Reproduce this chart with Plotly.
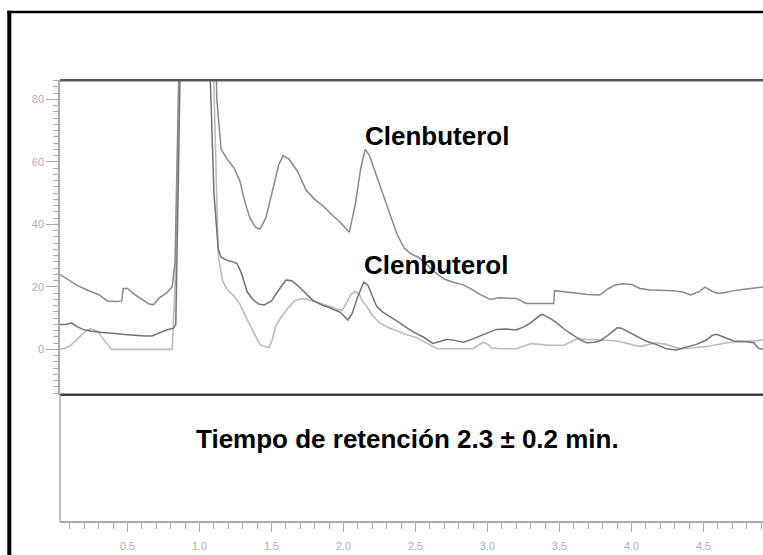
import plotly.graph_objects as go

W, H = 763, 555

# ---- data (time in min, signal) ----
t_a = [0.03, 0.08, 0.15, 0.22, 0.30, 0.36, 0.42, 0.46, 0.47, 0.50, 0.55, 0.60, 0.65, 0.68, 0.72, 0.77,
       0.81, 0.83, 0.845, 0.87, 0.95, 1.05, 1.10, 1.12, 1.15, 1.19, 1.24, 1.28, 1.31, 1.35, 1.39, 1.42,
       1.46, 1.50, 1.55, 1.58, 1.62, 1.68, 1.74, 1.80, 1.86, 1.92, 1.97, 2.04, 2.08, 2.12, 2.15, 2.18,
       2.24, 2.28, 2.32, 2.37, 2.42, 2.47, 2.52, 2.58, 2.64, 2.70, 2.76, 2.82, 2.88, 2.95, 3.02, 3.08,
       3.14, 3.20, 3.27, 3.35, 3.46, 3.465, 3.52, 3.60, 3.70, 3.78, 3.83, 3.88, 3.94, 4.00, 4.06, 4.13,
       4.20, 4.29, 4.36, 4.41, 4.47, 4.51, 4.56, 4.60, 4.66, 4.71, 4.80, 4.92]
v_a = [24, 22.5, 20.5, 19, 17.5, 15.5, 15.3, 15.5, 19.5, 19.5, 17.5, 16, 14.5, 14.3, 16.5, 18,
       20, 28, 60, 120, 140, 135, 125, 80, 64, 61, 58, 54, 48, 42, 39, 38.5,
       42, 50, 59, 62, 61, 57, 51, 48, 45.8, 43, 41, 37.5, 46, 58, 64, 62,
       54.3, 49, 43.7, 37, 32.5, 30.5, 29.5, 27, 24.5, 22.5, 21.5, 20.8, 19.5, 17.5, 16, 16.5,
       16.3, 16.3, 14.7, 14.7, 14.7, 18.8, 18.5, 18.1, 17.6, 17.4, 19.2, 20.5, 21.0, 20.8, 19.5, 19,
       19, 18.8, 18.3, 17.4, 18.5, 19.9, 18.6, 17.9, 18.3, 18.8, 19.3, 20]

t_b = [0.03, 0.07, 0.11, 0.15, 0.19, 0.25, 0.31, 0.38, 0.43, 0.50, 0.55, 0.62, 0.67, 0.72, 0.77, 0.82,
       0.835, 0.855, 0.875, 0.95, 1.03, 1.06, 1.075, 1.10, 1.13, 1.15, 1.19, 1.23, 1.26, 1.29, 1.33, 1.37,
       1.41, 1.45, 1.50, 1.55, 1.60, 1.64, 1.68, 1.74, 1.79, 1.85, 1.905, 1.98, 2.03, 2.06, 2.10, 2.14,
       2.17, 2.20, 2.23, 2.27, 2.32, 2.38, 2.44, 2.50, 2.56, 2.62, 2.67, 2.72, 2.78, 2.83, 2.89, 2.95,
       3.00, 3.06, 3.13, 3.20, 3.25, 3.30, 3.35, 3.38, 3.43, 3.48, 3.54, 3.60, 3.65, 3.69, 3.74, 3.78,
       3.84, 3.90, 3.93, 3.99, 4.05, 4.10, 4.17, 4.24, 4.31, 4.38, 4.45, 4.52, 4.56, 4.59, 4.65, 4.71,
       4.78, 4.85, 4.88, 4.92]
v_b = [8, 8, 8.5, 7.3, 6.4, 5.8, 5.5, 5.3, 5.0, 4.7, 4.5, 4.3, 4.3, 5.2, 6.2, 6.8,
       8, 60, 120, 140, 135, 120, 86, 50, 32, 29.5, 28.5, 28.0, 27.5, 24.5, 18.5, 16,
       14.5, 14.2, 15.5, 19, 22.2, 22, 20.5, 17.8, 15.6, 14.2, 13.3, 11.8, 9.4, 11.5, 17, 21.5,
       20.5, 17, 13.8, 12, 10.6, 8.8, 6.9, 5.2, 3.8, 1.9, 2.5, 3.2, 2.8, 2.3, 3.2, 4.3,
       5.3, 6.4, 6.5, 6.2, 7.2, 8.5, 10.4, 11.2, 10.1, 8.5, 6.2, 4.3, 2.9, 2.1, 2.3, 2.7,
       4.6, 6.9, 6.8, 5.3, 3.8, 2.7, 1.6, 0.2, -0.2, 0.7, 1.6, 3.0, 4.5, 4.8, 3.8, 2.7,
       2.5, 2.1, 0.4, 0]

t_c = [0.03, 0.06, 0.10, 0.14, 0.17, 0.21, 0.24, 0.27, 0.29, 0.32, 0.36, 0.39, 0.50, 0.60, 0.70, 0.81,
       0.83, 0.86, 0.88, 0.95, 1.05, 1.08, 1.10, 1.12, 1.13, 1.16, 1.19, 1.24, 1.28, 1.33, 1.38, 1.42,
       1.48, 1.505, 1.53, 1.57, 1.61, 1.66, 1.70, 1.75, 1.79, 1.85, 1.905, 1.96, 1.99, 2.02, 2.05, 2.08,
       2.11, 2.13, 2.16, 2.20, 2.25, 2.31, 2.37, 2.44, 2.51, 2.58, 2.65, 2.75, 2.90, 2.94, 2.97, 3.00,
       3.03, 3.10, 3.20, 3.25, 3.30, 3.36, 3.43, 3.53, 3.58, 3.62, 3.68, 3.73, 3.80, 3.90, 3.98, 4.06,
       4.12, 4.17, 4.24, 4.29, 4.34, 4.43, 4.52, 4.59, 4.66, 4.75, 4.83, 4.92]
v_c = [0, 0.3, 1.1, 2.8, 4.3, 5.8, 6.6, 6.3, 5.9, 4, 1.8, 0, 0, 0, 0, 0,
       20, 86, 130, 140, 135, 120, 86, 50, 30, 22, 19.2, 17, 14.5, 9.6, 5, 1.5,
       0.5, 3, 7.5, 10.5, 13, 15.5, 16.2, 16, 15.4, 14.6, 13.8, 12.8, 12.4, 14.9, 17.5, 18.6,
       17.6, 15.5, 13.8, 11, 8.5, 7, 5.9, 4.7, 3.7, 2, 0.2, 0.2, 0.2, 1.5, 2.3, 1.7,
       0.4, 0.2, 0.2, 1, 1.9, 1.6, 1.3, 1.3, 2.5, 3.4, 3.2, 3.2, 3.0, 2.7, 1.8, 0.9,
       1.6, 2.1, 1.6, 0.9, 0.2, 0.5, 0.9, 1.5, 2.1, 2.4, 2.6, 3]

peak_label = "Clenbuterol"
note_text = "Tiempo de retención 2.3 ± 0.2 min."

x_range = [0.031, 4.913]
y_range = [-14.5, 86.1]

# ---- geometry (pixels) ----
PL = 60           # plot left
PT = 80.3         # plot top
PB = 394.7        # plot bottom
XA = 522          # x axis line


def px(xp):
    return xp / W


def py(yp):
    return 1 - yp / H


fig = go.Figure()
fig.add_trace(go.Scatter(x=t_c, y=v_c, mode="lines",
                         line=dict(color="#bcbcbc", width=1.6), showlegend=False, hoverinfo="skip"))
fig.add_trace(go.Scatter(x=t_b, y=v_b, mode="lines",
                         line=dict(color="#737373", width=1.5), showlegend=False, hoverinfo="skip"))
fig.add_trace(go.Scatter(x=t_a, y=v_a, mode="lines",
                         line=dict(color="#8a8a8a", width=1.5), showlegend=False, hoverinfo="skip"))

axis_grey = "#ababab"
tick_font = dict(family="Liberation Sans, Arial, sans-serif", size=11, color="#b0b0b0")

fig.update_layout(
    width=W, height=H,
    margin=dict(l=0, r=0, t=0, b=0),
    paper_bgcolor="white", plot_bgcolor="white",
    xaxis=dict(
        domain=[px(PL), 1], range=x_range, anchor="free", position=py(XA),
        showline=True, linecolor=axis_grey, linewidth=1.5,
        showgrid=False, zeroline=False,
        ticks="outside", tick0=0, dtick=0.5, ticklen=9, tickwidth=1.2, tickcolor=axis_grey,
        tickformat=".1f", tickfont=tick_font, ticklabelstandoff=5,
        minor=dict(dtick=0.1, tick0=0, ticks="outside", ticklen=6, tickwidth=1.2,
                   tickcolor=axis_grey, showgrid=False),
    ),
    yaxis=dict(
        domain=[py(PB), py(PT)], range=y_range, anchor="x",
        showline=True, linecolor=axis_grey, linewidth=1.5,
        showgrid=False, zeroline=False,
        ticks="outside", tick0=0, dtick=20, ticklen=12, tickwidth=1.2, tickcolor=axis_grey,
        tickfont=tick_font,
        minor=dict(dtick=2, tick0=0, ticks="outside", ticklen=5, tickwidth=1.2,
                   tickcolor=axis_grey, showgrid=False),
    ),
    yaxis2=dict(
        overlaying="y", anchor="x", side="left", range=y_range,
        showline=False, showgrid=False, zeroline=False, showticklabels=False,
        ticks="outside", tick0=0, dtick=10, ticklen=8, tickwidth=1.2, tickcolor=axis_grey,
    ),
)

shapes = [
    # plot frame: top & bottom dark lines
    dict(type="line", xref="paper", yref="paper", x0=px(PL), x1=1, y0=py(PT), y1=py(PT),
         line=dict(color="#5a5a5a", width=2.5)),
    dict(type="line", xref="paper", yref="paper", x0=px(PL), x1=1, y0=py(PB), y1=py(PB),
         line=dict(color="#404040", width=2.5)),
    # grey line joining the plot to the time axis
    dict(type="line", xref="paper", yref="paper", x0=px(PL), x1=px(PL), y0=py(XA), y1=py(PB),
         line=dict(color=axis_grey, width=1.5)),
    # outer black frame (left and top)
    dict(type="line", xref="paper", yref="paper", x0=px(9.3), x1=px(9.3), y0=0, y1=py(10.8),
         line=dict(color="black", width=4)),
    dict(type="line", xref="paper", yref="paper", x0=px(7.3), x1=1, y0=py(12), y1=py(12),
         line=dict(color="black", width=2.5)),
]
fig.update_layout(shapes=shapes)

ann_font = dict(family="Liberation Sans, Arial, sans-serif", size=26, color="black")
fig.add_annotation(x=px(437), y=py(136.3), xref="paper", yref="paper", text="<b>%s</b>" % peak_label,
                   showarrow=False, font=ann_font, xanchor="center", yanchor="middle")
fig.add_annotation(x=px(436), y=py(265.3), xref="paper", yref="paper", text="<b>%s</b>" % peak_label,
                   showarrow=False, font=ann_font, xanchor="center", yanchor="middle")
fig.add_annotation(x=px(407.5), y=py(439.2), xref="paper", yref="paper", text="<b>%s</b>" % note_text,
                   showarrow=False, font=ann_font, xanchor="center", yanchor="middle")

fig.write_html("out.html")
